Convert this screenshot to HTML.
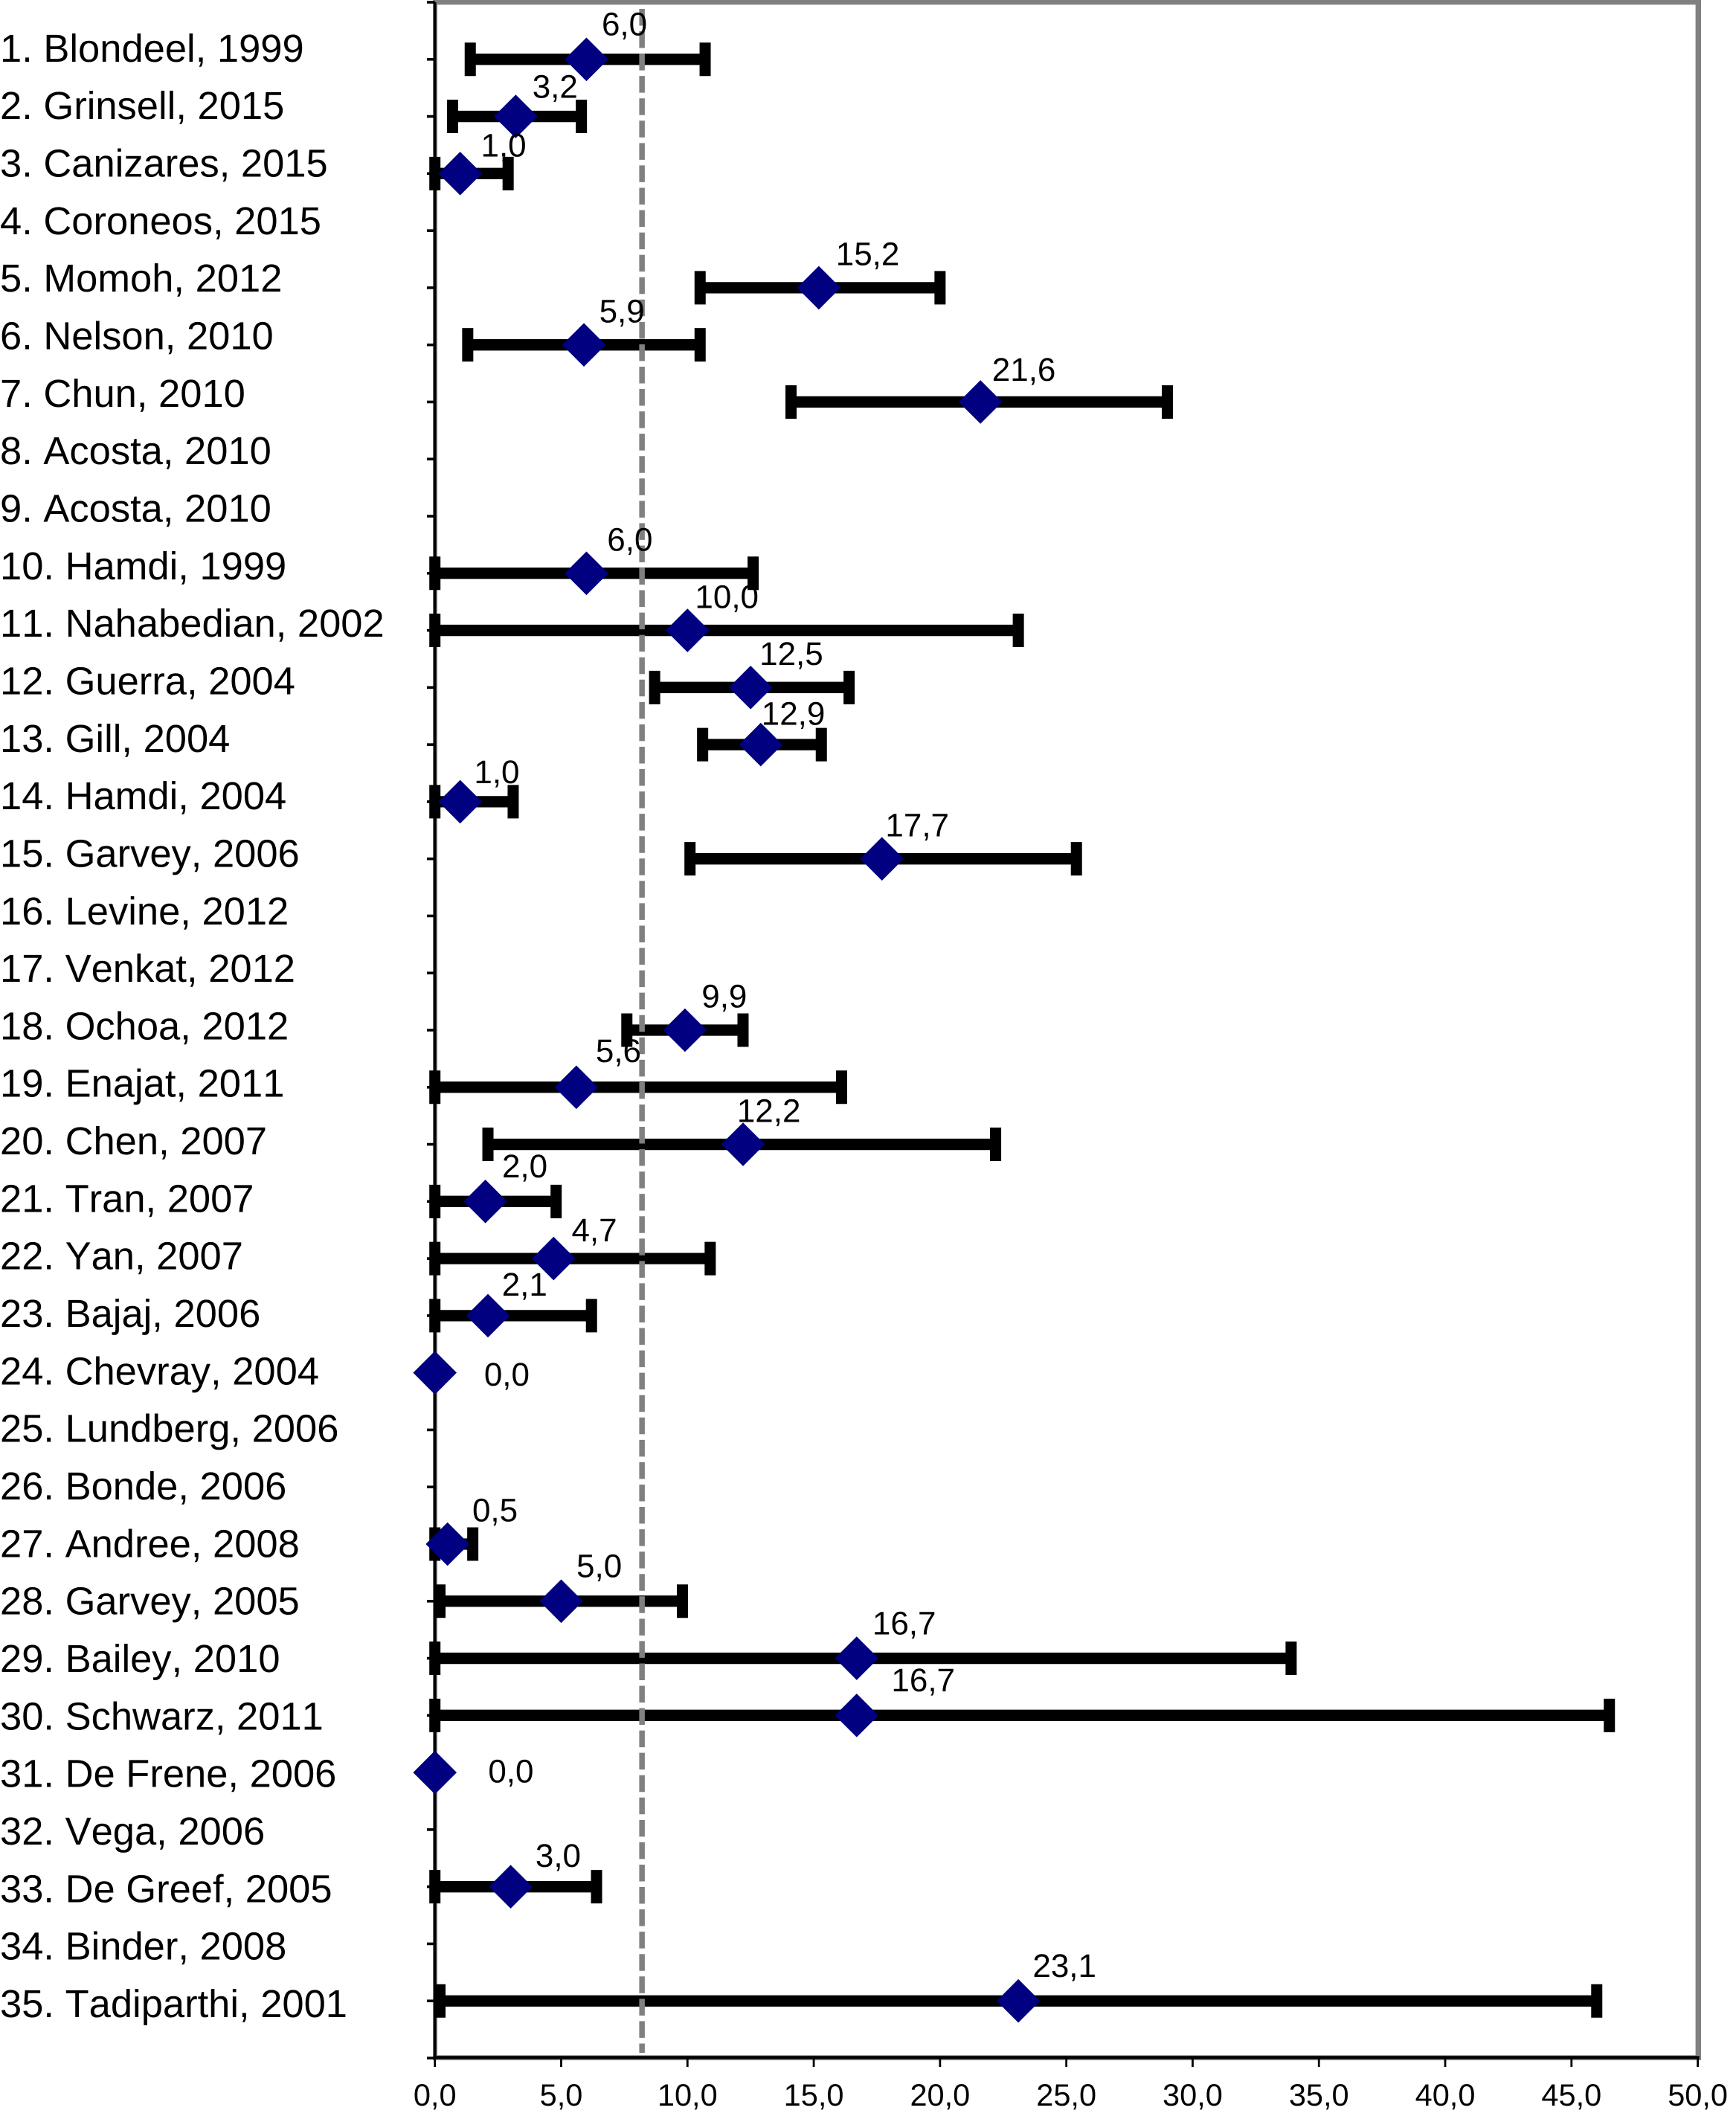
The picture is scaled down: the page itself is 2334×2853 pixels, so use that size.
<!DOCTYPE html>
<html lang="en">
<head>
<meta charset="utf-8">
<title>Forest plot of study estimates</title>
<style>
html,body{margin:0;padding:0;background:#fff;width:2334px;height:2853px;overflow:hidden}
svg{display:block;font-family:"Liberation Sans",Arial,sans-serif;font-kerning:none;text-rendering:geometricPrecision}
</style>
</head>
<body>
<svg id="chart" width="2334" height="2853" viewBox="0 0 2334 2853" xmlns="http://www.w3.org/2000/svg"></svg>
<script>
const categories = ["1. Blondeel, 1999","2. Grinsell, 2015","3. Canizares, 2015","4. Coroneos, 2015","5. Momoh, 2012","6. Nelson, 2010","7. Chun, 2010","8. Acosta, 2010","9. Acosta, 2010","10. Hamdi, 1999","11. Nahabedian, 2002","12. Guerra, 2004","13. Gill, 2004","14. Hamdi, 2004","15. Garvey, 2006","16. Levine, 2012","17. Venkat, 2012","18. Ochoa, 2012","19. Enajat, 2011","20. Chen, 2007","21. Tran, 2007","22. Yan, 2007","23. Bajaj, 2006","24. Chevray, 2004","25. Lundberg, 2006","26. Bonde, 2006","27. Andree, 2008","28. Garvey, 2005","29. Bailey, 2010","30. Schwarz, 2011","31. De Frene, 2006","32. Vega, 2006","33. De Greef, 2005","34. Binder, 2008","35. Tadiparthi, 2001"];
const estimates = [6.0,3.2,1.0,null,15.2,5.9,21.6,null,null,6.0,10.0,12.5,12.9,1.0,17.7,null,null,9.9,5.6,12.2,2.0,4.7,2.1,0.0,null,null,0.5,5.0,16.7,16.7,0.0,null,3.0,null,23.1];
const lowerBounds = [1.4,0.7,0.0,null,10.5,1.3,14.1,null,null,0.0,0.0,8.7,10.6,0.0,10.1,null,null,7.6,0.0,2.1,0.0,0.0,0.0,null,null,null,0.0,0.2,0.0,0.0,null,null,0.0,null,0.2];
const upperBounds = [10.7,5.8,2.9,null,20.0,10.5,29.0,null,null,12.6,23.1,16.4,15.3,3.1,25.4,null,null,12.2,16.1,22.2,4.8,10.9,6.2,null,null,null,1.5,9.8,33.9,46.5,null,null,6.4,null,46.0];
const xTickValues = [0,5,10,15,20,25,30,35,40,45,50];
const referenceValue = 8.2;

/* Layout only: nudges applied to each value label relative to its marker */
const labelNudgeX = [28,29,32,0,36,28,32,0,0,32,29,30,24,27,26,0,0,29,31,19,29,30,27,53,0,0,35,28,35,49,56,0,35,0,34];
const labelNudgeY = [-25,-21,-20,0,-24,-24,-23,0,0,-24,-24,-24,-22,-21,-24,0,0,-24,-26,-24,-25,-20,-22,2,0,0,-24,-25,-25,-25,0,0,-22,0,-25];

const svg = document.getElementById('chart');
const NS = 'http://www.w3.org/2000/svg';
const plot = {left:584.7, right:2282.6, top:3, bottom:2766.3, xMax:50, rows:36};
const x = v => plot.left + (v / plot.xMax) * (plot.right - plot.left);
const y = i => plot.top + (i + 1) * (2767 - plot.top) / plot.rows;
const labelBaseline = i => 82.8 + 77.33 * i;
const fmt = v => v.toFixed(1).replace('.', ',');

function make(tag, attrs, text) {
  const el = document.createElementNS(NS, tag);
  for (const k in attrs) el.setAttribute(k, attrs[k]);
  if (text !== undefined) el.textContent = text;
  svg.appendChild(el);
  return el;
}

let el;
el = make('rect', {x:0, y:0, width:2334, height:2853, fill:'#fff'});



el = make('rect', {x:582, y:0, width:2287 - 582, height:6.3, fill:'#808080'});



el = make('rect', {x:2279.6, y:0, width:7.4, height:2770, fill:'#808080'});



el = make('rect', {x:582, y:2763.3, width:2287 - 582, height:6.7, fill:'#808080'});



el = make('rect', {x:582, y:0, width:6, height:2770, fill:'#808080'});



el = make('line', {x1:plot.left, x2:plot.left, y1:plot.top, y2:plot.bottom + 2, stroke:'#000', 'stroke-width':3.6});



el = make('line', {x1:plot.left - 2, x2:plot.right + 2, y1:plot.bottom, y2:plot.bottom, stroke:'#000', 'stroke-width':4});



for (let i = -1; i < plot.rows; i++) {
  el = make('line', {x1:574, x2:plot.left, y1:y(i), y2:y(i), stroke:'#000', 'stroke-width':3.6});
  
  
}

xTickValues.forEach(v => {
  el = make('line', {x1:x(v), x2:x(v), y1:plot.bottom, y2:2779, stroke:'#000', 'stroke-width':2.8});
  
  
  el = make('text', {x:x(v), y:2831, 'text-anchor':'middle', 'font-size':41.5, fill:'#000'}, fmt(v));
  
  
});

categories.forEach((name, i) => {
  el = make('text', {x:0, y:labelBaseline(i), 'font-size':52.5, fill:'#000'}, name);
  
  
});

categories.forEach((name, i) => {
  if (lowerBounds[i] === null || upperBounds[i] === null) return;
  const cy = y(i);
  el = make('line', {x1:x(lowerBounds[i]), x2:x(upperBounds[i]), y1:cy, y2:cy, stroke:'#000', 'stroke-width':15.3});
  
  
  el = make('line', {x1:x(lowerBounds[i]), x2:x(lowerBounds[i]), y1:cy - 22.5, y2:cy + 22.5, stroke:'#000', 'stroke-width':15});
  
  
  el = make('line', {x1:x(upperBounds[i]), x2:x(upperBounds[i]), y1:cy - 22.5, y2:cy + 22.5, stroke:'#000', 'stroke-width':15});
  
  
});

el = make('line', {x1:x(referenceValue), x2:x(referenceValue), y1:12, y2:2760, stroke:'#808080', 'stroke-width':7.5, 'stroke-dasharray':'22.5 7.56'});



estimates.forEach((v, i) => {
  if (v === null) return;
  const cx = x(v), cy = y(i), r = 29.3;
  el = make('polygon', {points:[cx,cy-r, cx+r,cy, cx,cy+r, cx-r,cy].join(' '), fill:'#000080'});
  
  
});

estimates.forEach((v, i) => {
  if (v === null) return;
  el = make('text', {x:x(v) + labelNudgeX[i] * 1.825, y:y(i) + labelNudgeY[i] * 1.825 + 13.5, 'text-anchor':'middle', 'font-size':44, fill:'#000'}, fmt(v));
  
  
});
</script>
</body>
</html>
